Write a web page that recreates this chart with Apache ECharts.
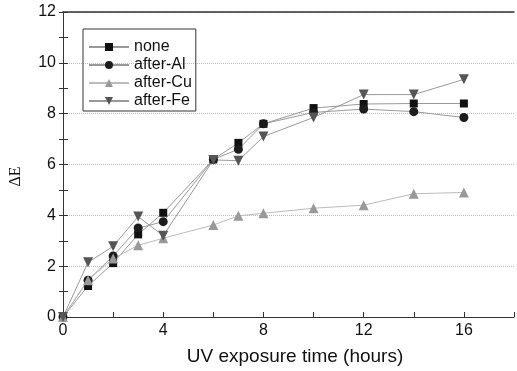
<!DOCTYPE html>
<html>
<head>
<meta charset="utf-8">
<script src="https://cdn.jsdelivr.net/npm/echarts@6/dist/echarts.min.js"></script>
<style>html,body{margin:0;padding:0;background:#fff}#c{width:517px;height:371px}</style>
</head>
<body>
<div id="c"></div>
<script>
var hours = [0, 1, 2, 3, 4, 6, 7, 8, 10, 12, 14, 16];
var none = [0, 1.22, 2.12, 3.25, 4.1, 6.2, 6.85, 7.6, 8.22, 8.38, 8.4, 8.4];
var afterAl = [0, 1.45, 2.4, 3.5, 3.75, 6.2, 6.6, 7.6, 8.05, 8.18, 8.08, 7.85];
var afterCu = [0, 1.45, 2.3, 2.82, 3.1, 3.62, 3.98, 4.08, 4.28, 4.4, 4.85, 4.9];
var afterFe = [0, 2.15, 2.78, 3.95, 3.2, 6.18, 6.15, 7.1, 7.85, 8.75, 8.75, 9.35];
var seriesNames = ['none', 'after-Al', 'after-Cu', 'after-Fe'];
var xTickLabels = [0, 4, 8, 12, 16];
var yTickLabels = [0, 2, 4, 6, 8, 10, 12];

function pairs(ys) { return hours.map(function (h, i) { return [h, ys[i]]; }); }

var font = 'Liberation Sans, Arial, sans-serif';
function mk(name, ys, symbol, size, rot, color, lineColor) {
  return {
    name: name, type: 'line', data: pairs(ys), symbol: symbol, symbolSize: size,
    symbolRotate: rot, showSymbol: true,
    itemStyle: { color: color, borderColor: color, borderWidth: 0 },
    lineStyle: { color: lineColor, width: 1 },
    emphasis: { disabled: true }, animation: false
  };
}

var chart = echarts.init(document.getElementById('c'));
chart.setOption({
  animation: false,
  grid: { left: 60, right: -1, top: 12, bottom: 53, show: false },
  legend: {
    orient: 'vertical', left: 83, top: 29,
    data: seriesNames,
    itemWidth: 40, itemHeight: 10, itemGap: 2,
    padding: [10, 4, 2, 5],
    borderColor: '#333', borderWidth: 1,
    textStyle: { fontFamily: font, fontSize: 16, color: '#111' }
  },
  xAxis: [{
    type: 'value', min: 0, max: 18, interval: 2,
    name: 'UV exposure time (hours)', nameLocation: 'middle', nameGap: 30,
    nameTextStyle: { fontFamily: font, fontSize: 19, color: '#111', padding: [0, 0, 0, 13] },
    axisLine: { show: true, lineStyle: { color: '#333', width: 1 } },
    axisTick: { show: true, inside: true, length: 5, lineStyle: { color: '#333' } },
    axisLabel: {
      fontFamily: font, fontSize: 16, color: '#111', margin: 6,
      formatter: function (v) { return xTickLabels.indexOf(v) >= 0 ? String(v) : ''; }
    },
    splitLine: { show: false }
  }, {
    type: 'value', min: 0, max: 18, interval: 2, position: 'top',
    axisLine: { show: true, onZero: false, lineStyle: { color: '#333', width: 1.5 } },
    axisTick: { show: false }, axisLabel: { show: false }, splitLine: { show: false }
  }],
  yAxis: [{
    type: 'value', min: 0, max: 12, interval: 2,
    name: 'ΔE', nameLocation: 'middle', nameGap: 39, nameRotate: 90,
    nameTextStyle: { fontFamily: 'Liberation Serif, Times New Roman, serif', fontSize: 16, color: '#111', padding: [0, 24, 0, 0] },
    axisLine: { show: true, lineStyle: { color: '#333', width: 1 } },
    axisTick: { show: true, inside: true, length: 5, lineStyle: { color: '#333' } },
    minorTick: { show: true, splitNumber: 2, length: 5, lineStyle: { color: '#333' } },
    axisLabel: {
      fontFamily: font, fontSize: 16, color: '#111', margin: 7,
      formatter: function (v) { return yTickLabels.indexOf(v) >= 0 ? String(v) : ''; }
    },
    splitLine: { show: true, lineStyle: { color: '#bbb', type: 'dotted', width: 1 } }
  }, {
    type: 'value', min: 0, max: 12, interval: 2, position: 'right',
    axisLine: { show: false },
    axisTick: { show: true, inside: true, length: 4, lineStyle: { color: '#333' } },
    minorTick: { show: true, splitNumber: 2, length: 4, lineStyle: { color: '#333' } },
    axisLabel: { show: false },
    splitLine: { show: false }
  }],
  series: [
    mk(seriesNames[0], none, 'rect', 8, 0, '#111', '#999'),
    mk(seriesNames[1], afterAl, 'circle', 9, 0, '#1c1c1c', '#999'),
    mk(seriesNames[2], afterCu, 'triangle', 10, 0, '#999', '#bbb'),
    mk(seriesNames[3], afterFe, 'triangle', 10, 180, '#555', '#999')
  ]
});
</script>
</body>
</html>
